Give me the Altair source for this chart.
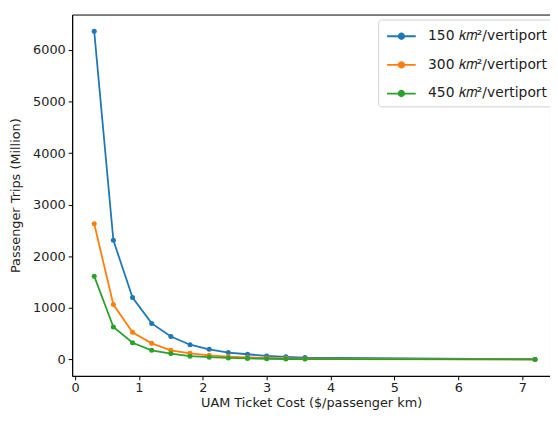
import altair as alt
import pandas as pd

cost = [0.3, 0.6, 0.9, 1.2, 1.5, 1.8, 2.1, 2.4, 2.7, 3.0, 3.3, 3.6, 7.2]
trips_150 = [6360, 2310, 1200, 700, 446, 287, 198, 134, 102, 70, 51, 38, 5]
trips_300 = [2630, 1065, 529, 313, 179, 121, 80, 55, 40, 30, 22, 16, 2]
trips_450 = [1615, 631, 325, 179, 115, 64, 45, 30, 22, 15, 10, 8, 1]
series = ["150 𝑘𝑚²/vertiport", "300 𝑘𝑚²/vertiport", "450 𝑘𝑚²/vertiport"]
colors = ["#1f77b4", "#ff7f0e", "#2ca02c"]

rows = []
for s, vals in zip(series, [trips_150, trips_300, trips_450]):
    for c, v in zip(cost, vals):
        rows.append({"cost": c, "trips": v, "series": s})
df = pd.DataFrame(rows)

FONT = "DejaVu Sans"
legend_sym = "M-1.45,0H1.45M0.28,0A0.28,0.28 0 1,1 -0.28,0A0.28,0.28 0 1,1 0.28,0Z"

x = alt.X("cost:Q", scale=alt.Scale(domain=[-0.045, 7.435], nice=False, zero=False),
          axis=alt.Axis(title="UAM Ticket Cost ($/passenger km)", values=list(range(0, 8)),
                        format="d", grid=False))
y = alt.Y("trips:Q", scale=alt.Scale(domain=[-317, 6685], nice=False, zero=False),
          axis=alt.Axis(title="Passenger Trips (Million)", values=list(range(0, 7000, 1000)),
                        format="d", grid=False))
color = alt.Color("series:N", scale=alt.Scale(domain=series, range=colors),
                  legend=alt.Legend(title=None, orient="none", legendX=310, legendY=5,
                                    symbolType=legend_sym, symbolSize=400,
                                    symbolStrokeWidth=1.8, labelFontSize=14,
                                    labelFont=FONT, rowPadding=11, padding=6,
                                    strokeColor="#d0d0d0", cornerRadius=3,
                                    fillColor="white", symbolOffset=6.5, labelOffset=16,
                                    labelColor="#222"))

base = alt.Chart(df)
lines = base.mark_line(strokeWidth=1.8).encode(x=x, y=y, color=color)
pts = base.mark_point(filled=True, size=26, opacity=1).encode(x=x, y=y, color=color)

chart = (lines + pts).properties(
    width=484, height=366,
    autosize=alt.AutoSizeParams(type="none"),
    padding={"left": 65, "top": 4, "right": 0, "bottom": 37},
).configure_view(stroke="black", strokeWidth=1).configure_axis(
    domainColor="black", tickColor="black", labelColor="#222", titleColor="#222",
    labelFont=FONT, titleFont=FONT, labelFontSize=13, titleFontSize=13,
    titleFontWeight="normal", tickSize=4, labelPadding=3,
).configure_axisY(titlePadding=10).configure_axisX(titlePadding=2, labelPadding=2)

chart.save("out.html", embed_options={"renderer": "svg", "actions": False})
